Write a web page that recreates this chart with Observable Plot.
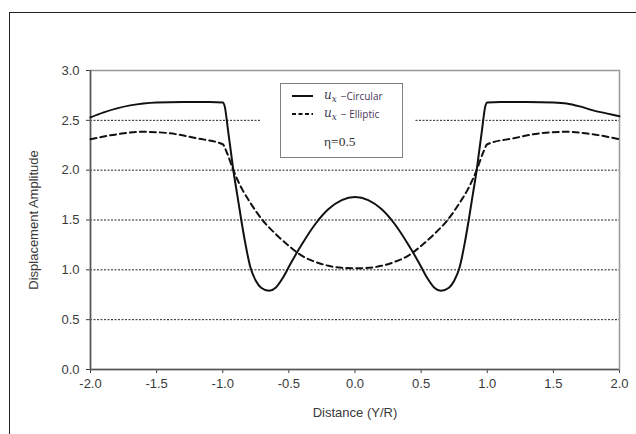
<!DOCTYPE html>
<html>
<head>
<meta charset="utf-8">
<script src="https://cdn.jsdelivr.net/npm/d3@7"></script>
<script src="https://cdn.jsdelivr.net/npm/@observablehq/plot@0.6"></script>
<style>
  html, body { margin: 0; padding: 0; background: #fff; }
  #wrap { position: relative; width: 636px; height: 434px; overflow: hidden; font-family: "Liberation Sans", Arial, sans-serif; }
  #outer { position: absolute; left: 9px; top: 12px; width: 700px; height: 500px; border: 1px solid #222; box-sizing: border-box; pointer-events: none; }
  #chart { position: absolute; left: 0; top: 0; }
  #legendMask { position: absolute; left: 260px; top: 78px; width: 155px; height: 86px; background: #fff; }
  #legend { position: absolute; left: 280px; top: 83px; width: 123px; height: 75px; border: 1.5px solid #808080; box-sizing: border-box; background: #fff; }
  .row { position: absolute; left: 0; height: 16px; display: flex; align-items: center; font-size: 11px; color: #3a3340; white-space: nowrap; }
  .math { font-family: "DejaVu Serif", "Liberation Serif", serif; font-style: italic; font-size: 12px; color: #3a3a55; }
  .lbl { font-family: "Open Sans", "DejaVu Sans", sans-serif; font-size: 10px; color: #4a3458; margin-left: 4px; }
  .eta { font-family: "Liberation Serif", serif; font-size: 13.5px; color: #333; }
</style>
</head>
<body>
<div id="wrap">
  <div id="chart"></div>
  <div id="legendMask"></div>
  <div id="legend"></div>
  <div id="outer"></div>
</div>
<script>
// Data
const xCircular = [-2.0,-1.9,-1.8,-1.7,-1.6,-1.5,-1.3,-1.1,-1.0,-0.985,-0.96,-0.94,-0.92,-0.89,-0.86,-0.83,-0.79,-0.75,-0.71,-0.65,-0.6,-0.55,-0.5,-0.45,-0.4,-0.3,-0.2,-0.1,0.0,
                   0.1,0.2,0.3,0.4,0.45,0.5,0.55,0.6,0.65,0.71,0.75,0.79,0.83,0.86,0.89,0.92,0.94,0.96,0.985,1.0,1.1,1.3,1.5,1.6,1.7,1.8,1.9,2.0];
const yCircular = [2.53,2.58,2.62,2.65,2.67,2.68,2.685,2.685,2.68,2.64,2.40,2.20,2.00,1.75,1.50,1.27,1.02,0.89,0.82,0.79,0.82,0.91,1.03,1.15,1.26,1.46,1.61,1.70,1.73,
                   1.70,1.61,1.46,1.26,1.15,1.03,0.91,0.82,0.79,0.82,0.89,1.02,1.27,1.50,1.75,2.00,2.20,2.40,2.64,2.68,2.685,2.685,2.68,2.67,2.64,2.60,2.57,2.54];
const xElliptic = [-2.0,-1.8,-1.6,-1.4,-1.2,-1.0,-0.97,-0.92,-0.85,-0.8,-0.7,-0.6,-0.5,-0.4,-0.3,-0.2,-0.1,0.0,
                   0.1,0.2,0.3,0.4,0.5,0.6,0.7,0.8,0.85,0.92,0.97,1.0,1.2,1.4,1.6,1.8,2.0];
const yElliptic = [2.31,2.36,2.385,2.37,2.32,2.26,2.18,2.00,1.80,1.69,1.50,1.36,1.24,1.14,1.08,1.04,1.02,1.015,
                   1.02,1.04,1.08,1.14,1.24,1.36,1.50,1.69,1.80,2.00,2.18,2.26,2.32,2.37,2.385,2.36,2.31];
const xTicks = [-2.0,-1.5,-1.0,-0.5,0.0,0.5,1.0,1.5,2.0];
const yTicks = [0.0,0.5,1.0,1.5,2.0,2.5,3.0];
const gridValues = [0.5,1.0,1.5,2.0,2.5];
const xLabel = "Distance (Y/R)";
const yLabel = "Displacement Amplitude";
const seriesNames = ["\u2212Circular", "\u2212 Elliptic"];
const etaText = "\u03b7=0.5";

const circular = xCircular.map((x, i) => ({x, y: yCircular[i]}));
const elliptic = xElliptic.map((x, i) => ({x, y: yElliptic[i]}));
const fmt = d => (Math.abs(d) < 1e-9 ? 0 : d).toFixed(1);

const chart = Plot.plot({
  width: 636,
  height: 434,
  marginLeft: 90,
  marginRight: 17,
  marginTop: 70,
  marginBottom: 65,
  style: {fontFamily: "'Liberation Sans', Arial, sans-serif", fontSize: "13px", color: "#3a3a3a", background: "transparent", overflow: "visible"},
  x: {domain: [-2, 2], ticks: xTicks, tickFormat: fmt, tickSize: 4, tickPadding: 5, label: xLabel, labelAnchor: "center", labelOffset: 47, labelArrow: "none"},
  y: {domain: [0, 3], ticks: yTicks, tickFormat: fmt, tickSize: 4, tickPadding: 7, label: yLabel, labelAnchor: "center", labelOffset: 62, labelArrow: "none"},
  marks: [
    Plot.ruleY(gridValues, {stroke: "#222", strokeWidth: 1, strokeDasharray: "2,1.5"}),
    Plot.frame({stroke: "#999", strokeWidth: 1.5}),
    Plot.ruleX([-2], {stroke: "#555", strokeWidth: 1.5}),
    Plot.ruleY([0], {stroke: "#555", strokeWidth: 1.5}),
    Plot.line(elliptic, {x: "x", y: "y", stroke: "#111", strokeWidth: 2, strokeDasharray: "6,4", curve: "monotone-x"}),
    Plot.line(circular, {x: "x", y: "y", stroke: "#111", strokeWidth: 2, curve: "monotone-x"})
  ]
});
document.getElementById("chart").appendChild(chart);

// Legend
const legend = document.getElementById("legend");
function addRow(top, dash, name) {
  const row = document.createElement("div");
  row.className = "row";
  row.style.top = top + "px";
  row.style.left = "11px";
  const svgNS = "http://www.w3.org/2000/svg";
  const s = document.createElementNS(svgNS, "svg");
  s.setAttribute("width", "22"); s.setAttribute("height", "8");
  const l = document.createElementNS(svgNS, "line");
  l.setAttribute("x1", "0"); l.setAttribute("x2", "21"); l.setAttribute("y1", "4"); l.setAttribute("y2", "4");
  l.setAttribute("stroke", "#111"); l.setAttribute("stroke-width", "2");
  if (dash) l.setAttribute("stroke-dasharray", "4,2.5");
  s.appendChild(l);
  row.appendChild(s);
  const m = document.createElement("span");
  m.className = "math"; m.style.marginLeft = "10px";
  m.innerHTML = "u<sub style='font-size:9px'>x</sub>";
  row.appendChild(m);
  const t = document.createElement("span");
  t.className = "lbl"; t.textContent = name;
  row.appendChild(t);
  legend.appendChild(row);
}
addRow(4, false, seriesNames[0]);
addRow(22, true, seriesNames[1]);
const eta = document.createElement("div");
eta.className = "row eta";
eta.style.top = "50px"; eta.style.left = "43px";
eta.textContent = etaText;
legend.appendChild(eta);
</script>
</body>
</html>
